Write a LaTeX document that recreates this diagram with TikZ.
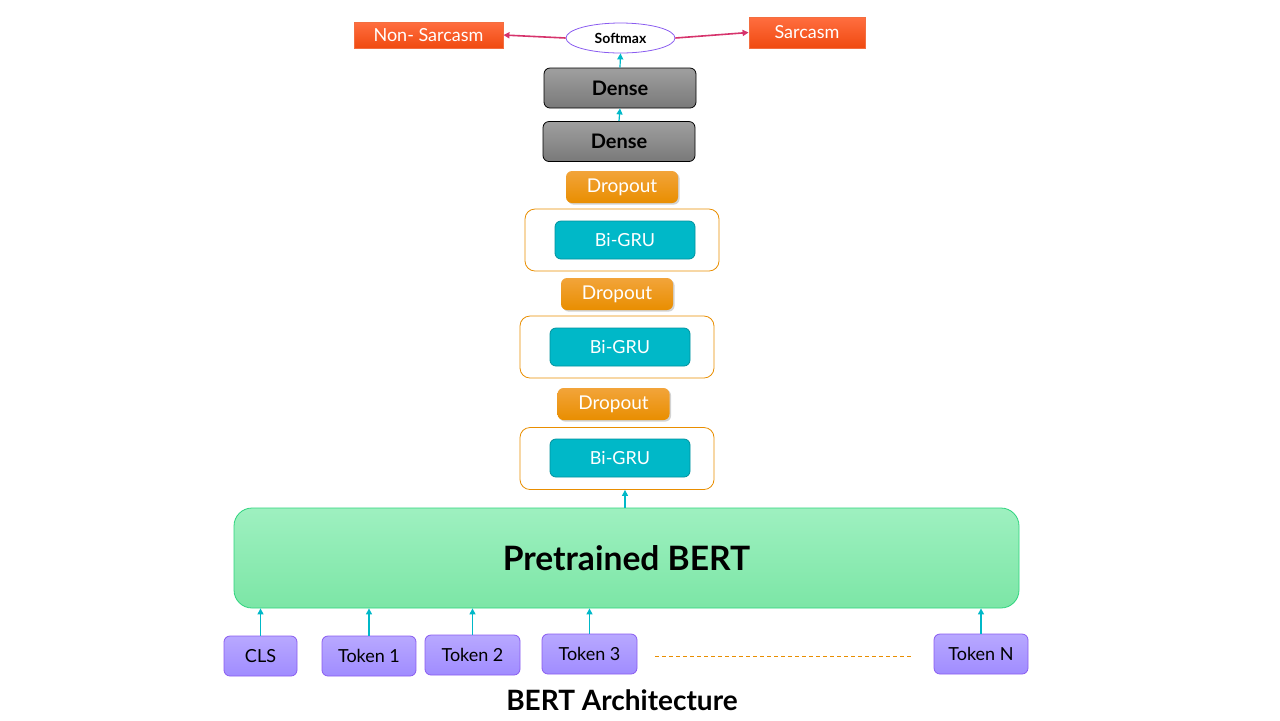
\documentclass[tikz,border=0pt]{standalone}
\usepackage{fontspec}
\setmainfont{Lato}
\usetikzlibrary{shadows,arrows.meta,shapes.geometric}
\definecolor{teal}{HTML}{00B8C8}
\definecolor{tealdark}{HTML}{00929E}
\definecolor{crim}{HTML}{D6336C}
\definecolor{orangeA}{HTML}{F2A43A}
\definecolor{orangeB}{HTML}{E98E00}
\definecolor{redA}{HTML}{FF6E40}
\definecolor{redB}{HTML}{F04A10}
\definecolor{purpA}{HTML}{B8A8FF}
\definecolor{purpB}{HTML}{A08CFF}
\definecolor{purpline}{HTML}{8A5CF0}
\definecolor{greenA}{HTML}{9EF0C0}
\definecolor{greenB}{HTML}{7CE6A6}
\definecolor{greenline}{HTML}{2ED47E}
\tikzset{
  outbox/.style={draw=redB!80!white, top color=redA, bottom color=redB, text=white,
    minimum width=74.5pt, minimum height=13pt, inner sep=0pt, font=\fontsize{9}{9}\selectfont},
  densebox/.style={draw=black, rounded corners=3pt, top color=gray!75, bottom color=gray!95!black,
    minimum width=76pt, minimum height=20pt, inner sep=0pt, font=\bfseries\fontsize{10}{10}\selectfont},
  dropbox/.style={rounded corners=3pt, top color=orangeA, bottom color=orangeB, text=white,
    drop shadow={shadow xshift=0.8pt, shadow yshift=-0.8pt, opacity=0.35},
    minimum width=56pt, minimum height=16pt, inner sep=0pt, font=\fontsize{9.5}{9.5}\selectfont},
  framebox/.style={draw=orangeB, rounded corners=5pt, fill=white,
    minimum width=97pt, minimum height=31pt, inner sep=0pt},
  grubox/.style={draw=tealdark, rounded corners=3pt, fill=teal, text=white,
    minimum width=70pt, minimum height=19pt, inner sep=0pt, font=\fontsize{9}{9}\selectfont},
  tokbox/.style={draw=purpline, rounded corners=3pt, top color=purpA, bottom color=purpB,
    minimum height=20pt, inner sep=0pt, font=\fontsize{9}{9}\selectfont},
  uparrow/.style={draw=teal, line width=0.6pt, -{Triangle[length=3pt,width=3pt]}},
  sidearrow/.style={draw=crim, line width=0.8pt, -{Triangle[length=3pt,width=3pt]}}
}
\begin{document}
\begin{tikzpicture}[x=0.5pt,y=-0.5pt]
\useasboundingbox (0,0) rectangle (1280,720);

% output layer
\node[outbox] (nons) at (428.5,35) {Non- Sarcasm};
\node[outbox, minimum width=58pt, minimum height=15.5pt] (sarc) at (807,32.5) {Sarcasm};
\node[draw=purpline, fill=white, ellipse, minimum width=54.5pt, minimum height=15pt, inner sep=0pt,
  font=\bfseries\fontsize{7}{7}\selectfont] (soft) at (620.5,38) {Softmax};
\draw[sidearrow] (soft.west) -- (nons.east);
\draw[sidearrow] (soft.east) -- (sarc.west);

% dense layers
\node[densebox] (dense1) at (620,88) {Dense};
\node[densebox] (dense2) at (619,141.5) {Dense};
\draw[uparrow] (dense1.north) -- (soft.south);
\draw[uparrow] (dense2.north) -- (dense1.south);

% dropout / bi-gru stack
\node[dropbox] (drop1) at (622,187) {Dropout};
\node[framebox] (frame1) at (622,240) {};
\node[grubox] (gru1) at (625,240) {Bi-GRU};

\node[dropbox] (drop2) at (617,294) {Dropout};
\node[framebox] (frame2) at (617,347) {};
\node[grubox] (gru2) at (620,347) {Bi-GRU};

\node[dropbox] (drop3) at (613.5,404) {Dropout};
\node[framebox] (frame3) at (617,458.5) {};
\node[grubox] (gru3) at (620,458) {Bi-GRU};

% bert
\node[draw=greenline, rounded corners=9pt, top color=greenA, bottom color=greenB,
  minimum width=392.5pt, minimum height=50pt, inner sep=0pt,
  font=\bfseries\fontsize{16.8}{16.8}\selectfont] (bert) at (626.5,558) {Pretrained BERT};
\draw[uparrow] (bert.north -| frame3.south) ++(8,0) coordinate (bt) -- (bt |- frame3.south);

% tokens
\node[tokbox, minimum width=36.5pt] (cls) at (260.5,656) {CLS};
\node[tokbox, minimum width=47pt] (tok1) at (369,656) {Token 1};
\node[tokbox, minimum width=47.5pt] (tok2) at (472.5,655) {Token 2};
\node[tokbox, minimum width=47.5pt] (tok3) at (589.5,654) {Token 3};
\node[tokbox, minimum width=47pt] (tokn) at (981,654) {Token N};
\foreach \t in {cls,tok1,tok2,tok3,tokn}
  \draw[uparrow] (\t.north) -- (\t.north |- bert.south);
\draw[draw=orangeB, dash pattern=on 2pt off 1.5pt, line width=0.5pt] (tok3.east) ++(18,2) coordinate (d1) -- (911,656) coordinate (d2);

\node[font=\bfseries\fontsize{14}{14}\selectfont] (title) at (622,700) {BERT Architecture};

\end{tikzpicture}
\end{document}
